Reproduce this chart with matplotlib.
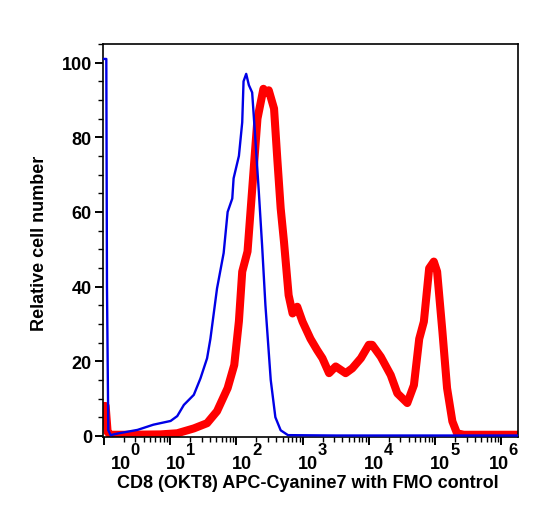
import numpy as np
import matplotlib.pyplot as plt
from matplotlib.ticker import MultipleLocator, LogLocator, NullFormatter

plt.rcParams['font.family'] = ['Liberation Sans', 'DejaVu Sans']
plt.rcParams['font.weight'] = 'bold'

# log10 of fluorescence intensity, relative cell number
fmo_logx = [0.0, 0.04, 0.05, 0.07, 0.106, 0.23, 0.51, 0.75, 1.01, 1.11, 1.21, 1.36, 1.46,
            1.56, 1.61, 1.71, 1.81, 1.87, 1.94, 1.96, 2.04, 2.09, 2.11, 2.15, 2.19,
            2.24, 2.29, 2.34, 2.39, 2.44, 2.52, 2.59, 2.67, 2.78, 3.5, 6.25]
fmo_y = [101, 101, 40, 1.5, 0.2, 0.7, 1.6, 3.0, 4.0, 5.3, 8.3, 11, 15.4,
         20.8, 26, 39.5, 49, 60, 63.6, 69, 75, 84, 95, 97, 94,
         92, 79, 65.5, 51, 35, 15, 5, 1.5, 0.2, 0.1, 0.1]

cd8_logx = [0.0, 0.03, 0.06, 0.1, 0.36, 0.86, 1.11, 1.36, 1.56, 1.71, 1.87, 1.97, 2.04,
            2.09, 2.17, 2.24, 2.32, 2.41, 2.44, 2.49, 2.57, 2.62, 2.67, 2.72, 2.79,
            2.85, 2.92, 3.00, 3.12, 3.22, 3.30, 3.40, 3.50, 3.65, 3.75, 3.88, 4.00,
            4.05, 4.18, 4.33, 4.43, 4.58, 4.68, 4.76, 4.83, 4.91, 4.98, 5.03, 5.11,
            5.18, 5.26, 5.33, 5.43, 6.25]
cd8_y = [8, 8, 1.0, 0.3, 0.3, 0.4, 0.7, 2.0, 3.4, 6.6, 12.8, 19, 30.7,
         44, 49.4, 66, 85, 93, 92, 92.6, 87.7, 74, 61, 52, 37.7,
         32.8, 34.6, 30.6, 26, 23, 20.8, 16.8, 18.6, 16.8, 18.1, 20.8, 24.4,
         24.4, 21.2, 16.3, 11.4, 8.8, 13.6, 26, 30.6, 44.9, 46.7, 44, 27.9,
         12.8, 3.9, 0.7, 0.3, 0.3]

decades = [0, 1, 2, 3, 4, 5, 6]
label_shift = [7, -4, -4, -5, -5, -5, -13]  # pixels, label left edge vs tick

fig = plt.figure(figsize=(5.38, 5.10), dpi=100)
ax = fig.add_axes([103 / 538, 1 - 438 / 510, 415 / 538, 393 / 510])

ax.plot(10 ** np.array(cd8_logx), cd8_y, color='#ff0000', lw=5.8, solid_joinstyle='round', zorder=2)
ax.plot(10 ** np.array(fmo_logx), fmo_y, color='#0000e6', lw=1.7, zorder=3)

ax.set_xscale('log')
ax.set_xlim(10 ** -0.01, 10 ** 6.25)
ax.set_ylim(-0.3, 105)

ax.xaxis.set_major_locator(LogLocator(base=10, numticks=20))
ax.xaxis.set_minor_locator(LogLocator(base=10, subs=np.arange(2, 10), numticks=20))
ax.xaxis.set_major_formatter(NullFormatter())
ax.xaxis.set_minor_formatter(NullFormatter())
ax.yaxis.set_major_locator(MultipleLocator(20))
ax.yaxis.set_minor_locator(MultipleLocator(5))

ax.tick_params(which='major', direction='out', length=6, width=1.4, labelsize=13, pad=2)
ax.tick_params(which='minor', direction='out', length=3.5, width=1.0)
for lab in ax.get_yticklabels():
    lab.set_fontweight('bold')
for s in ax.spines.values():
    s.set_linewidth(1.2)

for d, dx in zip(decades, label_shift):
    ax.annotate('10', xy=(10 ** d, 0), xycoords=('data', 'axes fraction'),
                xytext=(dx, -18), textcoords='offset pixels',
                ha='left', va='top', fontsize=13, fontweight='bold')
    ax.annotate(str(d), xy=(10 ** d, 0), xycoords=('data', 'axes fraction'),
                xytext=(dx + 20, -5), textcoords='offset pixels',
                ha='left', va='top', fontsize=12, fontweight='bold')

fig.text(308 / 538, 1 - 484 / 510, 'CD8 (OKT8) APC-Cyanine7 with FMO control',
         ha='center', va='center', fontsize=13, fontweight='bold')
fig.text(40 / 538, 1 - 243 / 510, 'Relative cell number', rotation=90,
         ha='center', va='center', fontsize=13, fontweight='bold')

fig.savefig('out.png', dpi=100)
